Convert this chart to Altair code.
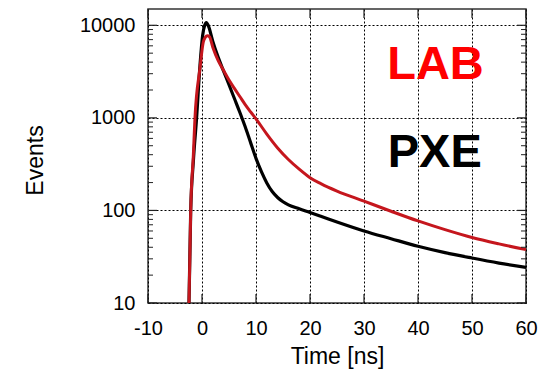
import altair as alt
import pandas as pd

# ---- data ----
pxe_t = [-2.6, -2.41, -2.09, -1.6, -1.0, -0.37, 0.13, 0.5, 0.8, 1.2, 2, 3, 4, 5, 6, 7, 8, 9, 10,
         11, 12, 13, 14, 15, 16, 18, 20, 22, 25, 30, 35, 40, 45, 50, 55, 60]
pxe_v = [5, 10, 100, 340, 1000, 3720, 7860, 10000, 10700, 9800, 6700, 4500, 3200, 2280, 1620, 1150, 800, 540, 365,
         262, 198, 160, 138, 124, 115, 104, 95, 86.5, 75, 60, 49.5, 41, 35, 30.6, 27, 24.2]

lab_t = [-2.6, -2.41, -2.09, -1.6, -1.3, -0.37, 0.24, 0.6, 1.0, 1.4, 2, 3, 4, 5, 6, 7, 8, 9, 10,
         12, 14, 16, 18, 20, 22, 25, 30, 35, 40, 45, 50, 55, 60]
lab_v = [5, 10, 100, 400, 1000, 3460, 6600, 7400, 7700, 7500, 5800, 4150, 3250, 2560, 2080, 1700, 1390, 1160, 975,
         668, 473, 355, 279, 226, 195, 162, 126, 98, 77, 62, 51, 43.5, 37.7]

label_names = ["LAB", "PXE"]
label_t = [34.3, 34.4]
label_v = [2630, 295]
label_colors = ["#ff0000", "#000000"]

x_ticks = [-10, 0, 10, 20, 30, 40, 50, 60]
y_ticks = [10, 100, 1000, 10000]
y_minor = [20, 30, 40, 50, 60, 70, 80, 90,
           200, 300, 400, 500, 600, 700, 800, 900,
           2000, 3000, 4000, 5000, 6000, 7000, 8000, 9000]

X_DOMAIN = [-10, 60]
Y_DOMAIN = [10, 15000]

FONT = "Liberation Sans"

df_pxe = pd.DataFrame({"t": pxe_t, "v": pxe_v})
df_lab = pd.DataFrame({"t": lab_t, "v": lab_v})
df_lbl = pd.DataFrame({"t": label_t, "v": label_v, "name": label_names, "c": label_colors})
df_xt = pd.DataFrame({"t": x_ticks})
df_ymaj = pd.DataFrame({"v": y_ticks})
df_ymin = pd.DataFrame({"v": y_minor})

xscale = alt.Scale(domain=X_DOMAIN, nice=False, zero=False)
yscale = alt.Scale(type="log", domain=Y_DOMAIN, nice=False)

x_axis = alt.Axis(values=x_ticks, labelExpr="toString(datum.value)", labelFlush=False,
                  grid=True, gridColor="#000", gridDash=[2, 2], gridWidth=1, gridOpacity=1,
                  ticks=False, domain=False, labelFontSize=20, labelColor="#000", labelPadding=15,
                  labelFont=FONT, title="Time [ns]", titleFont=FONT, titleFontSize=23,
                  titleFontWeight="normal", titleColor="#000", titleY=60, titleX=189,
                  titleBaseline="alphabetic")
y_axis = alt.Axis(values=y_ticks, format="d", labelFlush=False,
                  grid=True, gridColor="#000", gridDash=[2, 2], gridWidth=1,
                  gridOpacity=1, ticks=False, domain=False, labelFontSize=20, labelColor="#000",
                  labelPadding=13, labelFont=FONT, title="Events", titleFont=FONT, titleFontSize=23,
                  titleFontWeight="normal", titleColor="#000", titleX=-106, titleY=151,
                  titleAngle=270, titleAlign="center", titleBaseline="alphabetic")


def X(field):
    return alt.X(field, scale=xscale, axis=x_axis)


def Y(field):
    return alt.Y(field, scale=yscale, axis=y_axis)


pxe_line = alt.Chart(df_pxe).mark_line(color="#000000", strokeWidth=3.2, clip=True, interpolate="monotone").encode(
    x=X("t:Q"), y=Y("v:Q"))
lab_line = alt.Chart(df_lab).mark_line(color="#c5161d", strokeWidth=3, clip=True, interpolate="monotone").encode(
    x=X("t:Q"), y=Y("v:Q"))

labels = alt.Chart(df_lbl).mark_text(align="left", baseline="alphabetic", fontSize=47, fontWeight="bold",
                                     font=FONT).encode(
    x=X("t:Q"), y=Y("v:Q"),
    text="name:N",
    color=alt.Color("c:N", scale=None),
)

TC = "#222"


def xd(v):
    return alt.XDatum(v, scale=xscale, axis=x_axis)


def yd(v):
    return alt.YDatum(v, scale=yscale, axis=y_axis)


left_min = alt.Chart(df_ymin).mark_rule(color=TC, strokeWidth=1, x2Offset=5).encode(
    x=xd(X_DOMAIN[0]), x2=alt.X2Datum(X_DOMAIN[0]), y=Y("v:Q"))
right_min = alt.Chart(df_ymin).mark_rule(color=TC, strokeWidth=1, x2Offset=-5).encode(
    x=xd(X_DOMAIN[1]), x2=alt.X2Datum(X_DOMAIN[1]), y=Y("v:Q"))
left_maj = alt.Chart(df_ymaj).mark_rule(color=TC, strokeWidth=1.2, x2Offset=9).encode(
    x=xd(X_DOMAIN[0]), x2=alt.X2Datum(X_DOMAIN[0]), y=Y("v:Q"))
right_maj = alt.Chart(df_ymaj).mark_rule(color=TC, strokeWidth=1.2, x2Offset=-9).encode(
    x=xd(X_DOMAIN[1]), x2=alt.X2Datum(X_DOMAIN[1]), y=Y("v:Q"))
top_maj = alt.Chart(df_xt).mark_rule(color=TC, strokeWidth=1.2, y2Offset=9).encode(
    y=yd(Y_DOMAIN[1]), y2=alt.Y2Datum(Y_DOMAIN[1]), x=X("t:Q"))
bot_maj = alt.Chart(df_xt).mark_rule(color=TC, strokeWidth=1.2, y2Offset=-9).encode(
    y=yd(Y_DOMAIN[0]), y2=alt.Y2Datum(Y_DOMAIN[0]), x=X("t:Q"))

chart = alt.layer(
    pxe_line, lab_line, labels, left_min, right_min, left_maj, right_maj, top_maj, bot_maj
).properties(
    width=378, height=294,
    autosize=alt.AutoSizeParams(type="none"),
    padding={"left": 148, "top": 9, "right": 24, "bottom": 68},
    background="white",
).configure_view(stroke="#333", strokeWidth=1.5)

chart.save("out.html", embed_options={"renderer": "svg", "actions": False})
